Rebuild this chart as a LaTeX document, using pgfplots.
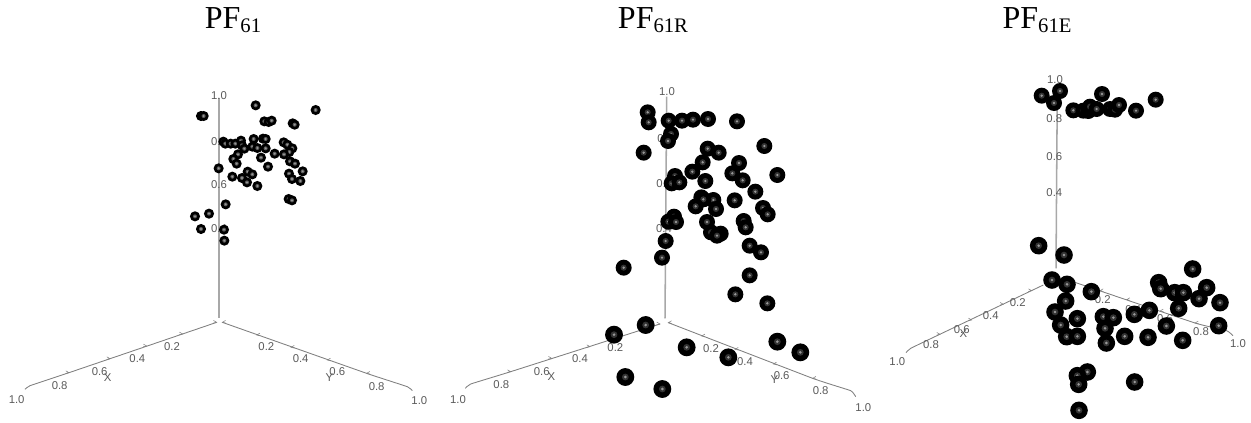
\documentclass[border=0pt]{standalone}
\usepackage{pgfplots}
\pgfplotsset{compat=1.18}
\usepackage{fontspec}
\setmainfont{Liberation Serif}
\newfontfamily\lab{Liberation Sans}
\definecolor{axg}{HTML}{808080}
\definecolor{vax}{HTML}{A8A8A8}
\definecolor{txg}{HTML}{5A5A5A}
\pgfdeclareplotmark{ringa}{%
 \pgfsetfillcolor{black}\pgfpathcircle{\pgfpointorigin}{\pgfplotmarksize}\pgfusepathqfill
 \pgfsetfillcolor{black!65}\pgfpathcircle{\pgfpointorigin}{0.40\pgfplotmarksize}\pgfusepathqfill
 \pgfsetfillcolor{black!40}\pgfpathcircle{\pgfpointorigin}{0.20\pgfplotmarksize}\pgfusepathqfill}
\pgfdeclareplotmark{ringb}{%
 \pgfsetfillcolor{black}\pgfpathcircle{\pgfpointorigin}{\pgfplotmarksize}\pgfusepathqfill
 \pgfsetfillcolor{black!80}\pgfpathcircle{\pgfpointorigin}{0.38\pgfplotmarksize}\pgfusepathqfill
 \pgfsetfillcolor{black!40}\pgfpathcircle{\pgfpointorigin}{0.16\pgfplotmarksize}\pgfusepathqfill}
\pgfdeclareplotmark{chevl}{%
 \pgfsetlinewidth{0.4pt}\pgfpathmoveto{\pgfpoint{-2.4pt}{1.4pt}}\pgfpathlineto{\pgfpointorigin}\pgfpathlineto{\pgfpoint{-2.6pt}{-0.6pt}}\pgfusepathqstroke}
\pgfdeclareplotmark{chevr}{%
 \pgfsetlinewidth{0.4pt}\pgfpathmoveto{\pgfpoint{2.4pt}{1.4pt}}\pgfpathlineto{\pgfpointorigin}\pgfpathlineto{\pgfpoint{2.6pt}{-0.6pt}}\pgfusepathqstroke}
\pgfplotsset{
 pa/.style={x filter/.expression={x/3},y filter/.expression={y/3+70}},
 pb/.style={x filter/.expression={x/3+440},y filter/.expression={y/3+70}},
 pc/.style={x filter/.expression={x/3+870},y filter/.expression={y/3+70}},
 labs/.style={only marks,mark=none,nodes near coords,point meta=explicit symbolic,
   nodes near coords style={anchor=center,inner sep=0pt,text=txg,font=\lab\fontsize{8.5pt}{9pt}\selectfont}},
 ticksl/.style={only marks,mark=chevl,color=axg},
 ticksr/.style={only marks,mark=chevr,color=axg},
 small ax/.style={no markers,color=axg,line width=0.65pt,smooth,tension=0.2},
 vert ax/.style={no markers,color=vax,line width=1.15pt},
}
\newcommand{\sub}[1]{\raisebox{-3pt}{\fontsize{15.5pt}{16pt}\selectfont #1}}
\begin{document}
\begin{tikzpicture}
\useasboundingbox (0,0) rectangle (938.25pt,316.5pt);
\begin{axis}[at={(0,0)},anchor=south west,scale only axis,width=938.25pt,height=316.5pt,xmin=0,xmax=1251,ymin=0,ymax=422,
 y dir=reverse,hide axis,clip=false]
% ---------- panel titles
\addplot[only marks,mark=none,nodes near coords,point meta=explicit symbolic,
  nodes near coords style={anchor=center,inner sep=0pt,text=black,font=\fontsize{24pt}{26pt}\selectfont}]
 table[meta=l,col sep=semicolon] {
x;y;l
233;20;PF\sub{61}
653;20;PF\sub{61R}
1037;20;PF\sub{61E}
};
% ---------- panel 1
\addplot[labs,pa] table[meta=l] {
x y l
657 78 1.0
657 214 0.8
657 345 0.6
657 476 0.4
516 830 0.2
412 867 0.4
299 905 0.6
179 946 0.8
50 990 1.0
323 922 X
799 830 0.2
902 867 0.4
1012 905 0.6
1130 949 0.8
1258 993 1.0
988 922 Y
};
\addplot[vert ax,pa] coordinates {(657,85) (657,745)};
\addplot[small ax,pa] coordinates {(650,757) (207,908) (90,947) (75,958)};
\addplot[small ax,pa] coordinates {(667,757) (1100,910) (1222,950) (1237,962)};
\addplot[ticksl,pa] coordinates {(650,757) (548,792) (440,828) (330,866) (207,908)};
\addplot[ticksr,pa] coordinates {(667,757) (770,795) (873,832) (982,870) (1100,910)};
\addplot[only marks,mark=ringa,mark size=3.8pt,pa] table {
x y
767 106
603 138
611 138
947 120
793 154
806 156
815 152
878 160
884 164
670 215
676 221
692 221
706 221
723 212
726 226
733 236
761 207
757 230
772 234
789 206
797 207
797 235
851 217
862 224
877 235
868 246
824 251
852 253
714 253
700 267
710 281
783 263
870 274
885 281
804 290
656 295
908 304
743 305
757 313
867 311
697 320
726 324
741 337
876 327
901 333
772 348
866 387
876 391
677 403
627 431
585 439
603 477
672 479
673 512
};
% ---------- panel 2
\addplot[labs,pb] table[meta=l] {
x y l
681 65 1.0
676 205 0.8
673 340 0.6
672 475 0.4
526 832 0.2
420 867 0.4
305 905 0.6
184 945 0.8
54 988 1.0
334 920 X
813 837 0.2
915 875 0.4
1025 917 0.6
1142 961 0.8
1270 1012 1.0
1003 930 Y
};
\addplot[vert ax,pb] coordinates {(680,80) (675,745)};
\addplot[small ax,pb] coordinates {(660,762) (212,905) (92,942) (76,955)};
\addplot[small ax,pb] coordinates {(685,758) (1118,925) (1232,962) (1247,980)};
\addplot[ticksl,pb] coordinates {(660,762) (450,830) (335,865) (212,905)};
\addplot[ticksr,pb] coordinates {(685,758) (785,798) (885,838) (1000,882) (1118,925)};
\addplot[only marks,mark=ringb,mark size=6pt,pb] table {
x y
623 127
626 157
686 152
726 152
759 149
804 147
891 154
693 192
684 213
611 248
973 228
803 236
836 248
788 277
897 279
757 305
877 310
908 331
1012 315
705 318
695 340
718 337
796 333
946 365
784 382
820 390
790 388
884 391
767 409
828 417
969 414
983 433
702 440
685 455
708 456
801 456
911 453
917 472
813 487
842 491
831 497
929 527
963 547
677 513
666 563
551 593
929 616
886 673
982 700
};
\addplot[only marks,mark=ringb,mark size=6.7pt,pb] table {
x y
617 765
522 794
1012 815
1081 847
740 832
865 862
556 921
667 957
};
% ---------- panel 3
\addplot[labs,pc] table[meta=l] {
x y l
555 30 1.0
553 147 0.8
553 260 0.6
553 368 0.4
443 697 0.2
362 737 0.4
275 778 0.6
183 825 0.8
82 875 1.0
280 790 X
698 690 0.2
790 718 0.4
885 747 0.6
993 785 0.8
1104 821 1.0
};
\addplot[vert ax,pc] coordinates {(562,40) (558,595)};
\addplot[small ax,pc] coordinates {(520,645) (205,795) (122,835) (108,848)};
\addplot[small ax,pc] coordinates {(600,632) (975,759) (1070,782) (1089,797)};
\addplot[ticksl,pc] coordinates {(485,662) (400,703) (305,750) (210,793)};
\addplot[ticksr,pc] coordinates {(690,662) (770,689) (870,723) (975,759)};
\addplot[only marks,mark=ringb,mark size=6pt,pc] table {
x y
515 77
570 63
552 99
696 72
857 89
610 121
640 122
655 123
660 110
680 117
720 117
735 119
747 105
798 122
};
\addplot[only marks,mark=ringb,mark size=6.6pt,pc] table {
x y
506 527
582 555
546 630
591 643
664 665
866 638
872 656
968 597
914 668
940 668
1010 653
987 686
1050 698
926 715
587 693
555 726
622 746
700 740
730 743
793 733
838 721
572 765
705 775
889 768
1046 767
590 800
622 799
709 819
764 799
834 802
938 811
652 906
622 917
626 943
794 936
627 1021
};
\end{axis}
\end{tikzpicture}
\end{document}
